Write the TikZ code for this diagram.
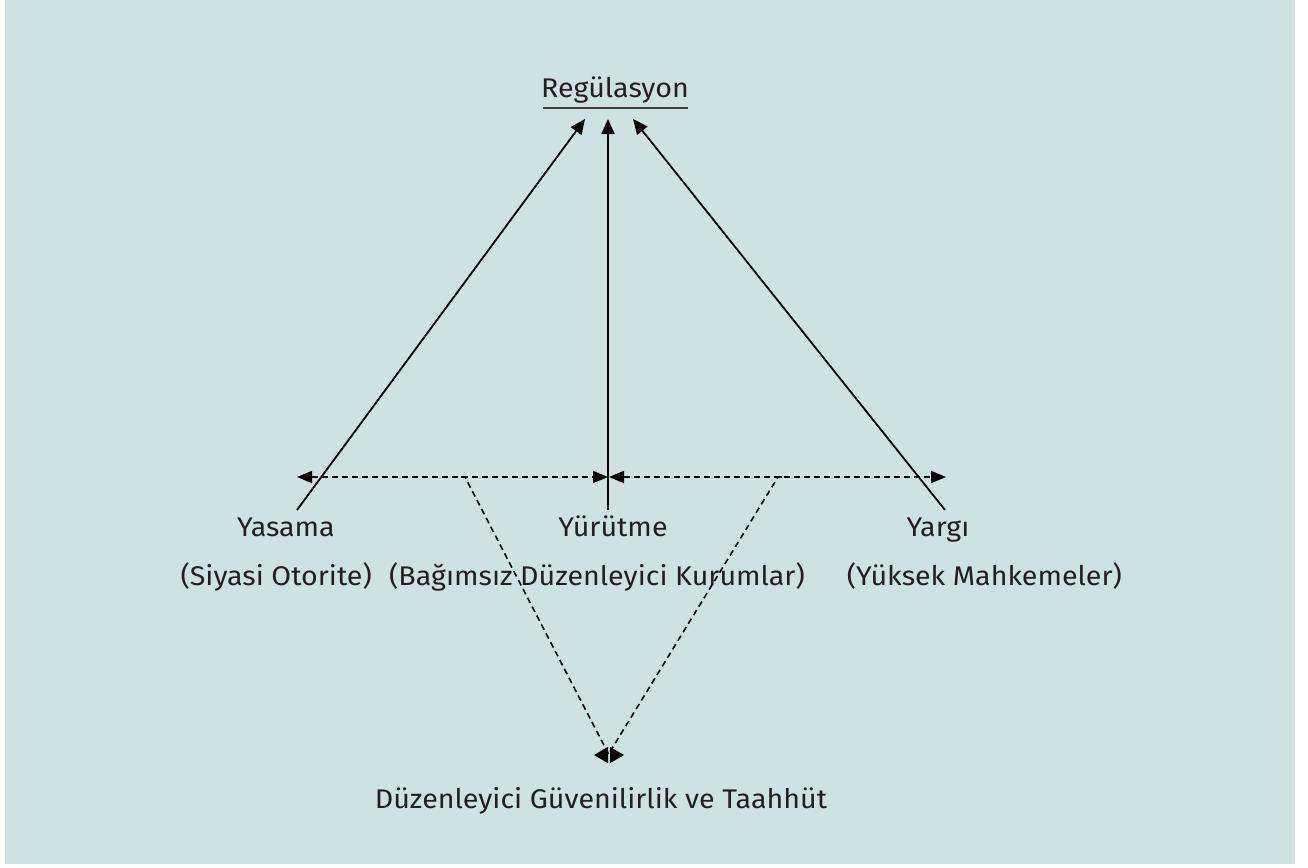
\documentclass[tikz,border=0pt]{standalone}
\usepackage{fontspec}
\setmainfont{Fira Sans}[FakeStretch=1.06]
\usetikzlibrary{arrows.meta}
\definecolor{bgc}{RGB}{207,226,227}
\definecolor{txt}{RGB}{35,31,32}
\begin{document}
\begin{tikzpicture}[x=1pt,y=-1pt,
  lbl/.style={font=\fontsize{27}{31}\selectfont, text=txt, inner sep=0pt, anchor=base},
  solidarr/.style={line width=1.8pt, -{Triangle[length=15pt,width=13pt]}},
  dasharr/.style={line width=1.8pt, dash pattern=on 6pt off 4pt, {Triangle[length=15pt,width=12pt]}-{Triangle[length=15pt,width=12pt]}},
  dashone/.style={line width=1.6pt, dash pattern=on 6pt off 4pt, -{Triangle[length=14pt,width=16pt]}}]
\useasboundingbox (0,0) rectangle (1308,867);
\fill[bgc] (5,0) rectangle (1295,864);
% labels
\node[lbl] (reg) at (615,97) {Regülasyon};
\draw[black!75, line width=1.8pt] (reg.base west |- 0,108) ++(2,0) -- ([xshift=-1pt]reg.base east |- 0,108);
\node[lbl] (yas) at (286,536) {Yasama};
\node[lbl, anchor=base east] (yas2) at (372,585) {(Siyasi Otorite)};
\node[lbl] (yur) at (613,536) {Yürütme};
\node[lbl] (yur2) at (597,585) {(Bağımsız Düzenleyici Kurumlar)};
\node[lbl] (yar) at (938,536) {Yargı};
\node[lbl, anchor=base east] (yar2) at (1122,585) {(Yüksek Mahkemeler)};
\node[lbl] (duz) at (601,808) {Düzenleyici Güvenilirlik ve Taahhüt};
% coordinates
\coordinate (tl) at (585,119);
\coordinate (tm) at (608,119);
\coordinate (tr) at (633,119);
\coordinate (bl) at (297,510);
\coordinate (bm) at (608,510);
\coordinate (br) at (945,510);
\coordinate (hl) at (297,477);
\coordinate (hm) at (608,477);
\coordinate (hm2) at (609,477);
\coordinate (hr) at (946,477);
\coordinate (vl0) at (461,477);
\coordinate (vl) at (465,477);
\coordinate (vr0) at (782,477);
\coordinate (vr) at (778,477);
\coordinate (vbl) at (609,755);
\coordinate (vbl2) at (624,755);
\coordinate (vbr) at (608,755);
\coordinate (vbr2) at (594,755);
% arrows
\draw[solidarr] (bl) -- (tl);
\draw[solidarr] (bm) -- (tm);
\draw[solidarr] (br) -- (tr);
\draw[dasharr] (hl) -- (hm);
\draw[dasharr] (hm2) -- (hr);
\draw[dashone] (vl0) -- (vl) -- (vbl) -- (vbl2);
\draw[dashone] (vr0) -- (vr) -- (vbr) -- (vbr2);
\end{tikzpicture}
\end{document}
